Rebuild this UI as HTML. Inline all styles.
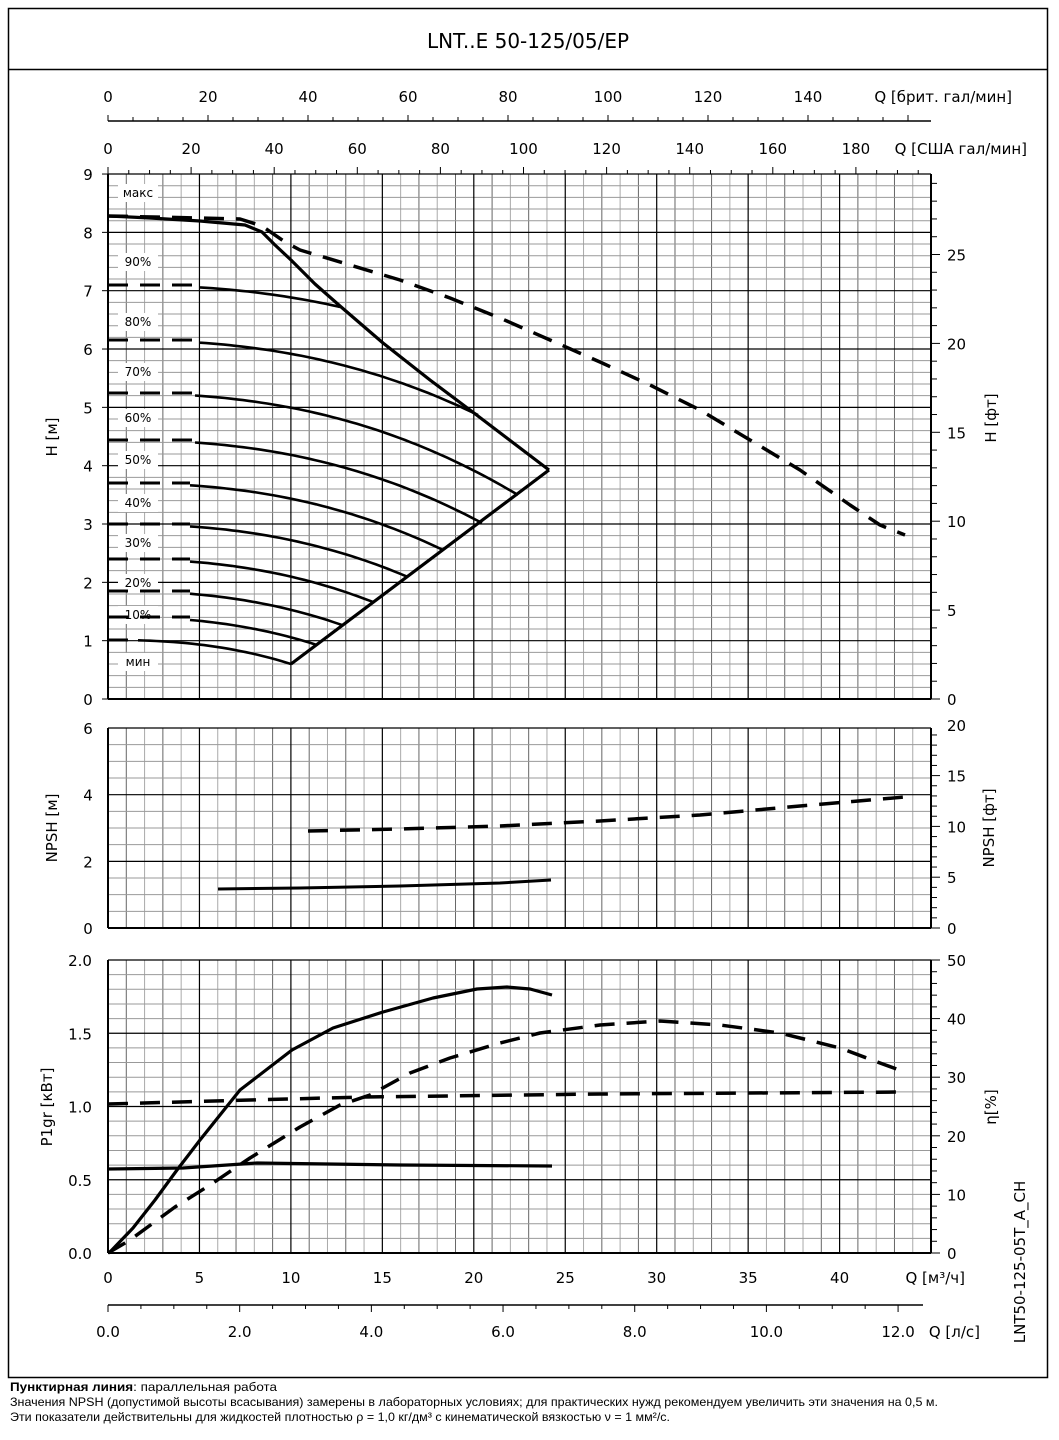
<!DOCTYPE html>
<html><head><meta charset="utf-8"><style>
html,body{margin:0;padding:0;background:#fff}
svg{display:block}
text{font-family:"DejaVu Sans","Liberation Sans",sans-serif;fill:#000}
.f{font-family:"Liberation Sans",sans-serif}
</style></head><body>
<svg id="s" width="1059" height="1440" xmlns="http://www.w3.org/2000/svg"></svg>
<script>
const S=document.getElementById('s');let o='';
function L(x1,y1,x2,y2,c,w){o+=`<line x1="${x1}" y1="${y1}" x2="${x2}" y2="${y2}" stroke="${c}" stroke-width="${w}"/>`;}
function T(x,y,t,sz,a,extra){o+=`<text x="${x}" y="${y}" font-size="${sz}" text-anchor="${a||'middle'}" ${extra||''}>${t}</text>`;}
function P(pts,w,dash){o+=`<polyline points="${pts.map(p=>p.join(',')).join(' ')}" fill="none" stroke="#000" stroke-width="${w}" stroke-linejoin="round" ${dash?'stroke-dasharray="20,12"':''}/>`;}
const X0=108,X1=931,dx=18.29;
o+=`<rect x="8.5" y="8.5" width="1039" height="1369" fill="none" stroke="#000" stroke-width="1.5"/>`;
L(8,69.5,1048,69.5,'#000',1.5);
T(528,48,'LNT..E 50-125/05/EP',20,'middle');
function grid(yt,yb,minorStep,majorEvery){
 for(let i=0;i<=45;i++){const x=X0+i*dx;if(i%5)L(x,yt,x,yb,i%2?'#666':'#aaa',1);}
 const n=Math.round((yb-yt)/minorStep);
 for(let j=0;j<=n;j++){const y=yb-j*minorStep;if(j%majorEvery)L(X0,y,X1,y,'#999',1);}
 for(let j=0;j<=n;j+=majorEvery){const y=yb-j*minorStep;L(X0,y,X1,y,'#000',1.2);}
 for(let i=0;i<=45;i+=5){const x=X0+i*dx;L(x,yt,x,yb,'#000',1.2);}
 L(X0,yt,X0,yb,'#000',2);L(X1,yt,X1,yb,'#000',2);L(X0,yb,X1,yb,'#000',2);
}
grid(174,699,58.33/5,5);
grid(728,928,33.33/2,4);
grid(960,1253,146.5/10,5);
for(let h=0;h<=9;h++){const y=699-h*58.33;T(88,y+6,h,15);L(102,y,108,y,'#000',1);}
for(let n=0;n<=6;n+=2){const y=928-n*33.33;T(88,y+6,n,15);}
for(let p=0;p<=4;p++){const y=1253-p*73.25;T(80,y+6,(p*0.5).toFixed(1),15);}
for(let f=0;f<=29;f++){const y=699-f*17.78;L(931,y,f%5?937:940,y,'#000',1);if(f%5==0)T(947,y+6,f,15,'start');}
for(let f=0;f<=19;f++){const y=928-f*10.16;L(931,y,f%5?937:940,y,'#000',1);}
for(let f=0;f<=20;f+=5){T(947,928-f*10.16+6,f,15,'start');}
for(let e=0;e<=50;e+=2){const y=1253-e*5.86;L(931,y,e%10?937:940,y,'#000',1);if(e%10==0)T(947,y+6,e,15,'start');}
T(0,0,'H [м]',15,'middle','transform="translate(57,437) rotate(-90)"');
T(0,0,'NPSH [м]',15,'middle','transform="translate(57,828) rotate(-90)"');
T(0,0,'P1gr [кВт]',15,'middle','transform="translate(52,1107) rotate(-90)"');
T(0,0,'H [фт]',15,'middle','transform="translate(996,418) rotate(-90)"');
T(0,0,'NPSH [фт]',15,'middle','transform="translate(994,828) rotate(-90)"');
T(0,0,'η[%]',15,'middle','transform="translate(996,1107) rotate(-90)"');
T(0,0,'LNT50-125-05T_A_CH',15,'middle','transform="translate(1025,1262) rotate(-90)"');
L(108,121,931,121,'#000',1.5);
for(let g=0;g<=160;g+=5){const x=108+g*5.0;L(x,121,x,g%20?117:115,'#000',1);if(g%20==0&&g<=140)T(x,102,g,15);}
T(1012,102,'Q [брит. гал/мин]',15,'end');
for(let g=0;g<=195;g+=5){const x=108+g*4.155;if(x>931)break;L(x,174,x,g%20?170:167,'#000',1);if(g%20==0&&g<=180)T(x,154,g,15);}
T(1027,154,'Q [США гал/мин]',15,'end');
for(let q=0;q<=40;q+=5)T(X0+q*dx,1283,q,15);
T(965,1283,'Q [м³/ч]',15,'end');
L(108,1305,923,1305,'#000',1.5);
for(let l=0;l<=12.4;l+=0.5){const x=108+l*65.84;L(x,1305,x,Math.round(l*2)%4?1309:1312,'#000',1);}
for(let l=0;l<=12;l+=2)T(108+l*65.84,1337,l.toFixed(1),15);
T(980,1337,'Q [л/с]',15,'end');
const labs=[['макс',193],['90%',262],['80%',322],['70%',372],['60%',418],['50%',460],['40%',503],['30%',543],['20%',583],['10%',615],['мин',662]];
labs.forEach(l=>{o+=`<rect x="118" y="${l[1]-9}" width="40" height="18" fill="#fff"/>`;T(138,l[1]+4,l[0],12);});
P([[108,216],[150,218],[200,221],[245,225],[262,232],[275,245],[291,260],[315,284],[340,306],[383,343],[430,380],[474,413],[549,470]],3.2);
P([[108,216],[200,218],[240,219],[262,226],[285,242],[300,250],[350,265],[400,280],[450,298],[500,318],[550,340],[600,362],[650,385],[700,410],[750,440],[800,470],[850,505],[880,525],[905,535]],3.5,true);
P([[549,470],[291,664]],3.2);
const sp=[[285,340,307,200],[340,478,415,200],[393,518,495,195],[440,482,523,195],[483,443,550,190],[524,408,577,190],[559,373,602,190],[591,342,625,190],[617,317,645,190],[640,291,664,138]];
sp.forEach(s=>{const[y0,xe,ye,xs]=s;const pts=[];for(let x=xs;x<=xe;x+=6){const t=(x-108)/(xe-108);pts.push([x,(y0+(ye-y0)*Math.pow(t,2.4)).toFixed(1)]);}pts.push([xe,ye]);P(pts,2.6);P([[108,y0],[xs,y0]],3,true);});
P([[308,831],[400,829],[500,826],[600,821],[700,815],[800,806],[905,797]],3.5,true);
P([[218,889],[300,888],[400,886],[500,883],[551,880]],3);
P([[110,1252],[133,1228],[155,1200],[177,1170],[200,1140],[240,1090],[292,1050],[333,1028],[383,1012],[433,998],[477,989],[507,987],[530,989],[552,995]],3.2);
P([[108,1169],[183,1168],[257,1163],[400,1165],[552,1166]],3.2);
P([[108,1104],[250,1100],[365,1097],[600,1094],[905,1092]],3.5,true);
P([[108,1253],[130,1240],[175,1207],[210,1185],[250,1158],[300,1127],[340,1105],[370,1095],[410,1073],[450,1058],[500,1043],[540,1033],[600,1025],[660,1021],[720,1025],[780,1033],[840,1048],[880,1063],[905,1072]],3.5,true);
o+=`<text class="f" x="10" y="1391" font-size="12" textLength="267" lengthAdjust="spacingAndGlyphs"><tspan font-weight="bold">Пунктирная линия</tspan>: параллельная работа</text>`;
o+=`<text class="f" x="10" y="1406" font-size="12" textLength="928" lengthAdjust="spacingAndGlyphs">Значения NPSH (допустимой высоты всасывания) замерены в лабораторных условиях; для практических нужд рекомендуем увеличить эти значения на 0,5 м.</text>`;
o+=`<text class="f" x="10" y="1421" font-size="12" textLength="660" lengthAdjust="spacingAndGlyphs">Эти показатели действительны для жидкостей плотностью ρ = 1,0 кг/дм³ с кинематической вязкостью ν = 1 мм²/с.</text>`;
S.innerHTML=o;
</script>
</body></html>
